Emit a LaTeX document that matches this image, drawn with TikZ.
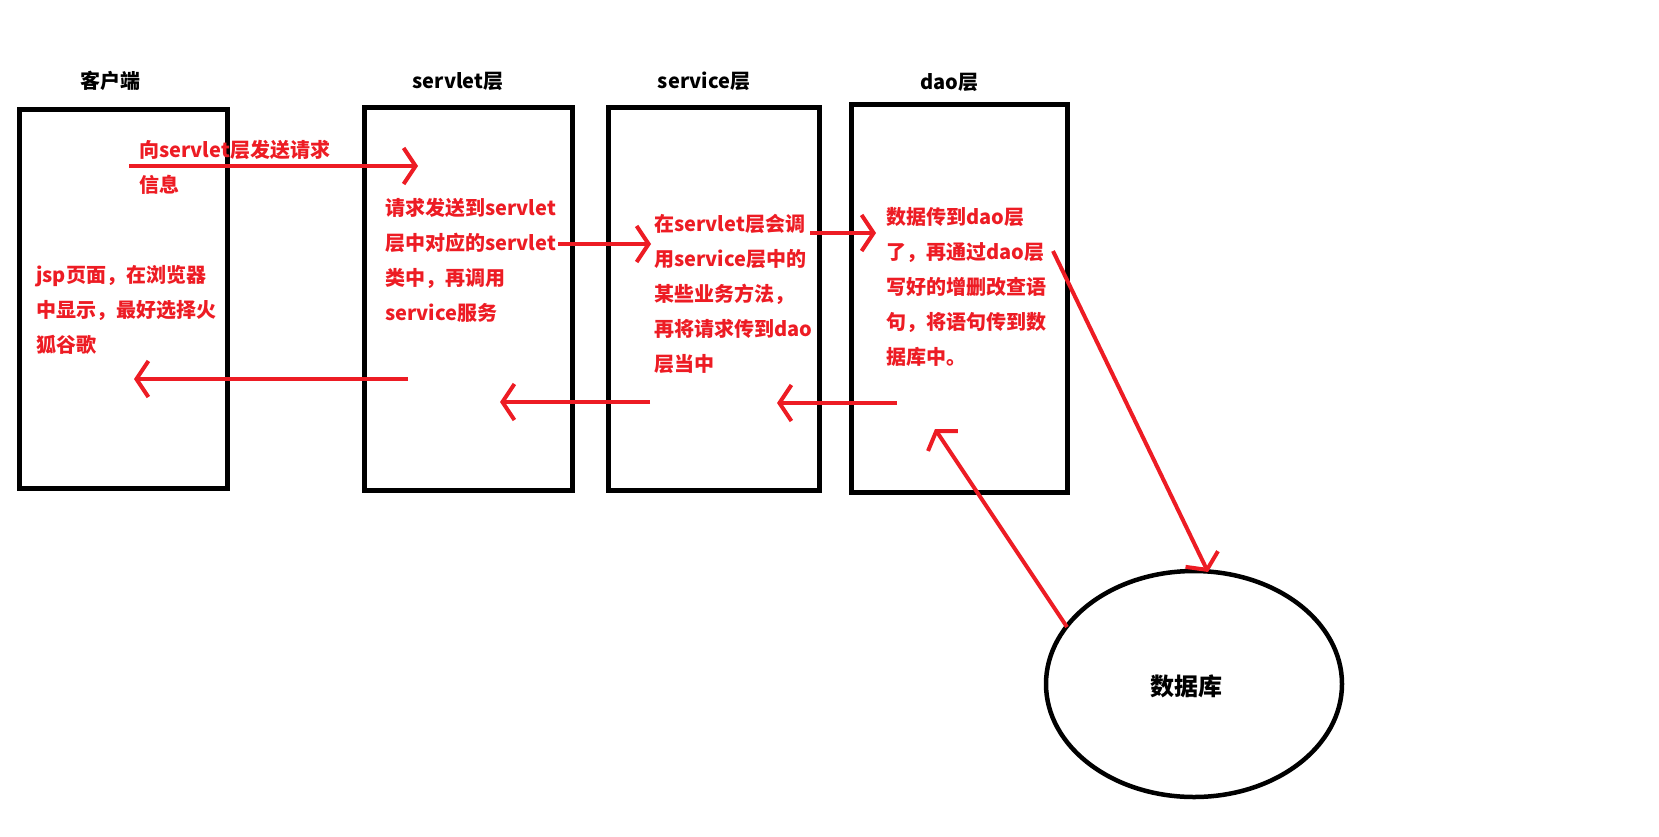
\documentclass[tikz,border=0pt]{standalone}
\usepackage{fontspec}
\newfontfamily\cjk{Noto Sans CJK SC}
\usetikzlibrary{arrows.meta,shapes.geometric}
\definecolor{myred}{RGB}{237,28,36}
\begin{document}
\begin{tikzpicture}[x=1pt,y=-1pt,
  box/.style={draw=black, line width=5pt, rectangle, inner sep=0pt},
  title/.style={font=\cjk\bfseries\fontsize{20}{20}\selectfont, text=black},
  redtxt/.style={font=\cjk\bfseries\fontsize{20}{35}\selectfont, text=myred, align=left, anchor=north west, inner sep=0pt},
  rarrow/.style={draw=myred, line width=4pt, -{Straight Barb[length=12pt,width=36pt]}}]
\useasboundingbox (0,0) rectangle (1659,836);
% boxes
\node[box, minimum width=208pt, minimum height=379pt] (client) at (123,298.5) {};
\node[box, minimum width=208pt, minimum height=383pt] (servlet) at (468,298.5) {};
\node[box, minimum width=211pt, minimum height=383pt] (service) at (713.5,298.5) {};
\node[box, minimum width=216pt, minimum height=388pt] (dao) at (959,298) {};
\node[ellipse, draw=black, line width=4.5pt, minimum width=296pt, minimum height=226pt, inner sep=0pt] (db) at (1194,684) {};
\node[font=\cjk\bfseries\fontsize{24}{24}\selectfont, text=black] (dblabel) at (1186,686) {数据库};
% titles
\node[title] (tclient) at (110,81) {客户端};
\node[title] (tservlet) at (458,81) {servlet层};
\node[title] (tservice) at (704,81) {service层};
\node[title] (tdao) at (949,82) {dao层};
% red texts
\node[redtxt] (x1) at (139,140) {向servlet层发送请求\\信息};
\node[redtxt] (x2) at (36,265) {jsp页面，在浏览器\\中显示，最好选择火\\狐谷歌};
\node[redtxt] (x3) at (385,198) {请求发送到servlet\\层中对应的servlet\\类中，再调用\\service服务};
\node[redtxt] (x4) at (654,214) {在servlet层会调\\用service层中的\\某些业务方法，\\再将请求传到dao\\层当中};
\node[redtxt] (x5) at (886,207) {数据传到dao层\\了，再通过dao层\\写好的增删改查语\\句，将语句传到数\\据库中。};
% arrow coordinates
\coordinate (a1s) at (129,166); \coordinate (a1e) at (418,166);
\coordinate (a2s) at (558,244); \coordinate (a2e) at (651,244);
\coordinate (a3s) at (810,233); \coordinate (a3e) at (876,233);
\coordinate (a4s) at (1053,251); \coordinate (a4e) at (1208,572);
\coordinate (a5s) at (1067,627); \coordinate (a5e) at (935,429);
\coordinate (a6s) at (897,403); \coordinate (a6e) at (777,403);
\coordinate (a7s) at (650,402); \coordinate (a7e) at (500,402);
\coordinate (a8s) at (408,379); \coordinate (a8e) at (134,379);
\draw[rarrow] (a1s) -- (a1e);
\draw[rarrow] (a2s) -- (a2e);
\draw[rarrow] (a3s) -- (a3e);
\draw[rarrow] (a4s) -- (a4e);
\draw[rarrow] (a5s) -- (a5e);
\draw[rarrow] (a6s) -- (a6e);
\draw[rarrow] (a7s) -- (a7e);
\draw[rarrow] (a8s) -- (a8e);
\end{tikzpicture}
\end{document}
